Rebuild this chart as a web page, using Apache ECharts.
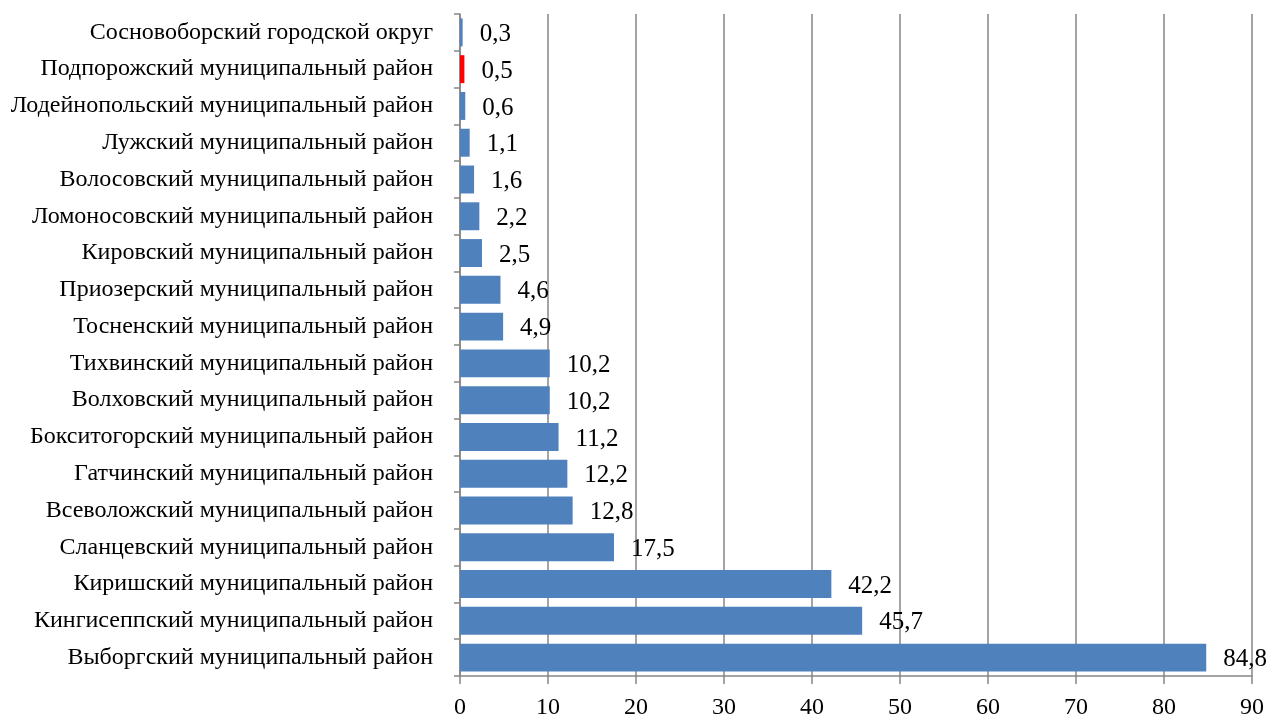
<!DOCTYPE html>
<html><head><meta charset="utf-8">
<script src="https://cdn.jsdelivr.net/npm/echarts@6/dist/echarts.min.js"></script>
<style>html,body{margin:0;padding:0;background:#fff}#c{width:1270px;height:718px}</style>
</head><body><div id="c"></div>
<script>
const categories = [
  "Выборгский муниципальный район",
  "Кингисеппский муниципальный район",
  "Киришский муниципальный район",
  "Сланцевский муниципальный район",
  "Всеволожский муниципальный район",
  "Гатчинский муниципальный район",
  "Бокситогорский муниципальный район",
  "Волховский муниципальный район",
  "Тихвинский муниципальный район",
  "Тосненский муниципальный район",
  "Приозерский муниципальный район",
  "Кировский муниципальный район",
  "Ломоносовский муниципальный район",
  "Волосовский муниципальный район",
  "Лужский муниципальный район",
  "Лодейнопольский муниципальный район",
  "Подпорожский муниципальный район",
  "Сосновоборский городской округ"
];
const values = [84.8, 45.7, 42.2, 17.5, 12.8, 12.2, 11.2, 10.2, 10.2, 4.9, 4.6, 2.5, 2.2, 1.6, 1.1, 0.6, 0.5, 0.3];
const highlighted = ["Подпорожский муниципальный район"];

const chart = echarts.init(document.getElementById('c'));
const font = "'Liberation Serif', 'Times New Roman', serif";
chart.setOption({
  animation: false,
  grid: {left: 460, right: 18, top: 14, bottom: 42, containLabel: false, outerBoundsMode: 'none'},
  xAxis: {
    type: 'value', min: 0, max: 90, interval: 10,
    axisLine: {show: true, lineStyle: {color: '#868686', width: 1.5}},
    axisTick: {show: true, length: 8, lineStyle: {color: '#868686', width: 1.5}},
    splitLine: {show: true, lineStyle: {color: '#868686', width: 1.5}},
    axisLabel: {fontFamily: font, fontSize: 24, color: '#000', margin: 20}
  },
  yAxis: {
    type: 'category', data: categories,
    axisLine: {show: true, lineStyle: {color: '#868686', width: 1.5}},
    axisTick: {show: true, length: 6, alignWithLabel: false, lineStyle: {color: '#868686', width: 1.5}},
    axisLabel: {fontFamily: font, fontSize: 24, color: '#000', margin: 27}
  },
  series: [{
    type: 'bar',
    barWidth: '76%',
    data: values.map((v, i) => ({
      value: v,
      itemStyle: {color: highlighted.includes(categories[i]) ? '#FF0000' : '#4F81BD'}
    })),
    label: {
      show: true, position: 'right', distance: 17, offset: [0, 2],
      fontFamily: font, fontSize: 25, color: '#000',
      formatter: p => String(p.value).replace('.', ',')
    }
  }]
});
</script></body></html>
